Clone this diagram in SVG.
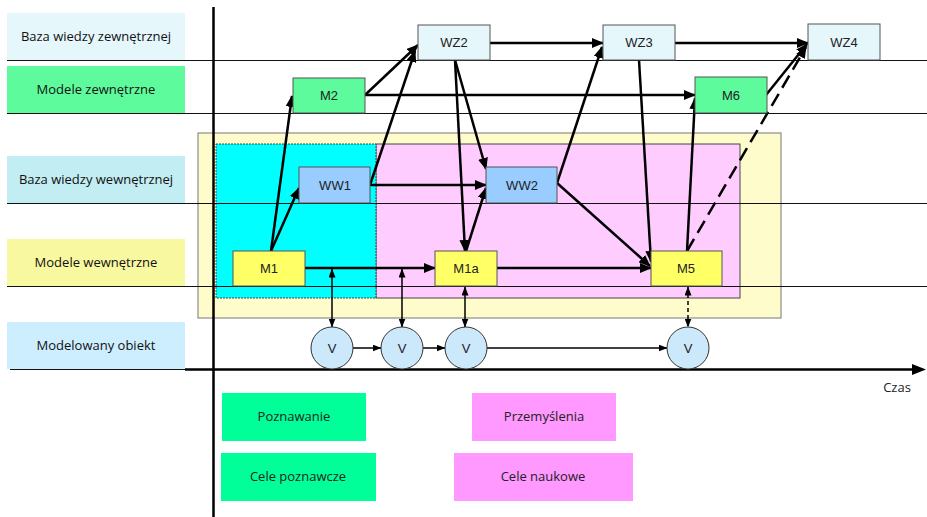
<svg xmlns="http://www.w3.org/2000/svg" width="927" height="517" viewBox="0 0 927 517">
  <defs>
    <marker id="arrow" viewBox="0 0 12 10" refX="11" refY="5" markerWidth="12" markerHeight="10" markerUnits="userSpaceOnUse" orient="auto-start-reverse">
      <path d="M0,0 L12,5 L0,10 z" fill="#000"/>
    </marker>
    <marker id="arrow-sm" viewBox="0 0 9 7" refX="8.5" refY="3.5" markerWidth="9" markerHeight="7" markerUnits="userSpaceOnUse" orient="auto-start-reverse">
      <path d="M0,0 L9,3.5 L0,7 z" fill="#000"/>
    </marker>
  </defs>
  <style>
    .lane { stroke: none; }
    .lane-text { font-family: "Open Sans", "Noto Sans", sans-serif; font-size: 13px; fill: #111; text-anchor: middle; }
    .rule { stroke: #111; stroke-width: 1; }
    .node rect { stroke: #555; stroke-width: 1; }
    .node text { font-family: "Liberation Sans", Arial, sans-serif; font-size: 13px; fill: #222; text-anchor: middle; }
    .kb-ext { fill: #e6f7fc; }
    .model-ext { fill: #5efb9d; }
    .kb-int { fill: #99ccff; }
    .model-int { fill: #ffff66; }
    .obj circle { fill: #cce9fc; stroke: #333; stroke-width: 1; }
    .conn { fill: none; stroke: #000; stroke-width: 2.5; marker-end: url(#arrow); }
    .conn-thin { fill: none; stroke: #000; stroke-width: 1.5; marker-end: url(#arrow-sm); }
    .legend text { font-family: "Open Sans", "Noto Sans", sans-serif; font-size: 13px; fill: #222; text-anchor: middle; }
  </style>

  <rect width="927" height="517" fill="#fff"/>

  <!-- lane titles -->
  <g id="lanes">
    <rect class="lane" x="7" y="13" width="178" height="47" fill="#e6f7fc"/>
    <text class="lane-text" x="96" y="41">Baza wiedzy zewnętrznej</text>
    <rect class="lane" x="7" y="66" width="178" height="47" fill="#5efb9d"/>
    <text class="lane-text" x="96" y="94">Modele zewnętrzne</text>
    <rect class="lane" x="7" y="156" width="178" height="47" fill="#c2edf2"/>
    <text class="lane-text" x="96" y="184">Baza wiedzy wewnętrznej</text>
    <rect class="lane" x="7" y="239" width="178" height="47" fill="#f8f8a0"/>
    <text class="lane-text" x="96" y="267">Modele wewnętrzne</text>
    <rect class="lane" x="7" y="322" width="178" height="47" fill="#cceeff"/>
    <text class="lane-text" x="96" y="350">Modelowany obiekt</text>
  </g>

  <!-- phase areas -->
  <g id="areas">
    <rect x="198" y="133" width="583" height="185" fill="#fffccc" stroke="#777" stroke-width="1"/>
    <rect x="376" y="144" width="364" height="154" fill="#ffccff" stroke="#444" stroke-width="1"/>
    <rect x="216" y="144" width="160" height="154" fill="#00ffff" stroke="#444" stroke-width="1" stroke-dasharray="2,1"/>
  </g>

  <!-- lane separators and axes -->
  <g id="grid">
    <line class="rule" x1="7" y1="60.5" x2="927" y2="60.5"/>
    <line class="rule" x1="7" y1="113.5" x2="927" y2="113.5" stroke="#666"/>
    <line class="rule" x1="7" y1="203.5" x2="927" y2="203.5" stroke="#333"/>
    <line class="rule" x1="7" y1="286.5" x2="927" y2="286.5" stroke="#333"/>
    <line class="rule" x1="10" y1="369.5" x2="190" y2="369.5"/>
    <line x1="185" y1="369.5" x2="914" y2="369.5" stroke="#000" stroke-width="2.5"/>
    <path d="M912,364 L926,369.5 L912,375 z" fill="#000"/>
    <line x1="213.5" y1="7" x2="213.5" y2="517" stroke="#000" stroke-width="2.5"/>
    <text x="897" y="392" font-family="Open Sans, Noto Sans, sans-serif" font-size="13" fill="#222" text-anchor="middle">Czas</text>
  </g>

  <!-- connectors -->
  <g id="connectors">
    <line class="conn" x1="271" y1="251" x2="292" y2="96"/>
    <line class="conn" x1="271" y1="251" x2="299" y2="188"/>
    <line class="conn" x1="305" y1="268" x2="435" y2="268"/>
    <line class="conn" x1="370" y1="185" x2="486" y2="185"/>
    <line class="conn" x1="370" y1="185" x2="415" y2="51"/>
    <line class="conn" x1="365" y1="95" x2="418" y2="45"/>
    <line class="conn" x1="365" y1="95" x2="695" y2="95"/>
    <line class="conn" x1="490" y1="43" x2="603" y2="43"/>
    <line class="conn" x1="675" y1="43" x2="808" y2="43"/>
    <line class="conn" x1="455" y1="60" x2="465" y2="251"/>
    <line class="conn" x1="455" y1="60" x2="486" y2="169"/>
    <line class="conn" x1="466" y1="251" x2="486" y2="188"/>
    <line class="conn" x1="557" y1="183" x2="602" y2="47"/>
    <line class="conn" x1="557" y1="183" x2="650" y2="266"/>
    <line class="conn" x1="497" y1="268" x2="651" y2="268"/>
    <line class="conn" x1="639" y1="60" x2="651" y2="262"/>
    <line class="conn" x1="687" y1="251" x2="695" y2="98"/>
    <line class="conn" x1="766" y1="95" x2="807" y2="44"/>
    <line class="conn" x1="687" y1="251" x2="806" y2="47" stroke-dasharray="14,7"/>
    <!-- links between models and the modelled object -->
    <line class="conn-thin" x1="332" y1="269" x2="332" y2="327" marker-start="url(#arrow-sm)"/>
    <line class="conn-thin" x1="402" y1="269" x2="402" y2="327" marker-start="url(#arrow-sm)"/>
    <line class="conn-thin" x1="465" y1="287" x2="465" y2="327" marker-start="url(#arrow-sm)"/>
    <line class="conn-thin" x1="688" y1="287" x2="688" y2="327" marker-start="url(#arrow-sm)" stroke-dasharray="4,3"/>
    <!-- object state sequence -->
    <line class="conn-thin" x1="353" y1="348" x2="381" y2="348"/>
    <line class="conn-thin" x1="423" y1="348" x2="445" y2="348"/>
    <line class="conn-thin" x1="487" y1="348" x2="667" y2="348"/>
  </g>

  <!-- external knowledge base -->
  <g id="WZ2" class="node"><rect class="kb-ext" x="418" y="25" width="72" height="35"/><text x="454" y="47">WZ2</text></g>
  <g id="WZ3" class="node"><rect class="kb-ext" x="603" y="25" width="72" height="35"/><text x="639" y="47">WZ3</text></g>
  <g id="WZ4" class="node"><rect class="kb-ext" x="808" y="24" width="72" height="36"/><text x="844" y="47">WZ4</text></g>

  <!-- external models -->
  <g id="M2" class="node"><rect class="model-ext" x="293" y="78" width="72" height="35"/><text x="329" y="100">M2</text></g>
  <g id="M6" class="node"><rect class="model-ext" x="695" y="77" width="72" height="36"/><text x="731" y="100">M6</text></g>

  <!-- internal knowledge base -->
  <g id="WW1" class="node"><rect class="kb-int" x="299" y="167" width="71" height="36"/><text x="335" y="190">WW1</text></g>
  <g id="WW2" class="node"><rect class="kb-int" x="486" y="167" width="71" height="36"/><text x="522" y="190">WW2</text></g>

  <!-- internal models -->
  <g id="M1" class="node"><rect class="model-int" x="233" y="251" width="72" height="35"/><text x="269" y="273">M1</text></g>
  <g id="M1a" class="node"><rect class="model-int" x="435" y="251" width="62" height="35"/><text x="466" y="273">M1a</text></g>
  <g id="M5" class="node"><rect class="model-int" x="651" y="251" width="71" height="35"/><text x="686" y="273">M5</text></g>

  <!-- modelled object states -->
  <g id="V1" class="node obj"><circle cx="332" cy="348" r="21"/><text x="332" y="353">V</text></g>
  <g id="V2" class="node obj"><circle cx="402" cy="348" r="21"/><text x="402" y="353">V</text></g>
  <g id="V3" class="node obj"><circle cx="466" cy="348" r="21"/><text x="466" y="353">V</text></g>
  <g id="V4" class="node obj"><circle cx="688" cy="348" r="21"/><text x="688" y="353">V</text></g>

  <!-- legend -->
  <g id="legend" class="legend">
    <rect x="222" y="393" width="144" height="48" fill="#00ff99"/>
    <text x="294" y="421">Poznawanie</text>
    <rect x="221" y="453" width="155" height="48" fill="#00ff99"/>
    <text x="298" y="481">Cele poznawcze</text>
    <rect x="472" y="393" width="144" height="48" fill="#ff99ff"/>
    <text x="544" y="421">Przemyślenia</text>
    <rect x="454" y="453" width="179" height="48" fill="#ff99ff"/>
    <text x="543" y="481">Cele naukowe</text>
  </g>
</svg>
